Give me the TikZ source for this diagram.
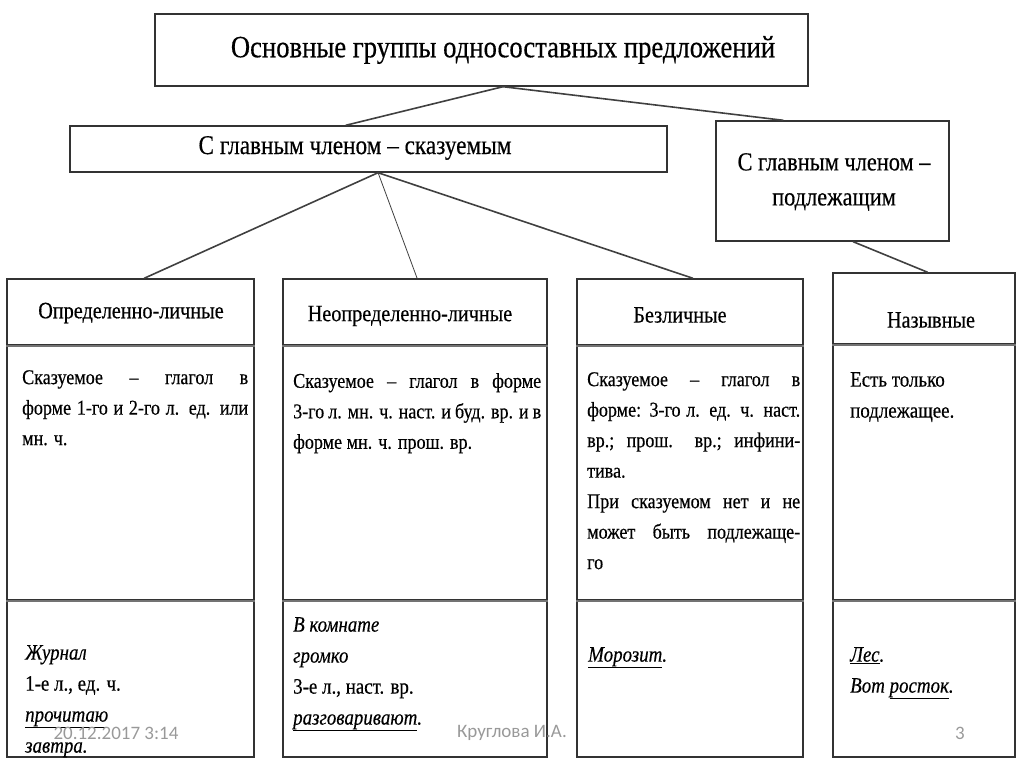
\documentclass[tikz,border=0pt]{standalone}
\usepackage{fontspec}
\setmainfont{Liberation Serif}[FakeStretch=0.86,FakeBold=0.4]
\newfontfamily\slidefont{Carlito}
\usetikzlibrary{calc}
\begin{document}
\begin{tikzpicture}[x=1pt,y=-1pt,
  frame/.style={draw=black!80,line width=1.4pt,inner sep=0pt},
  link/.style={draw=black!75,line width=1.6pt},
  rule/.style={draw=black!55,line width=2.4pt},
  head/.style={inner sep=0pt,font=\fontsize{23.5}{26}\selectfont},
  body/.style={anchor=north west,inner sep=0pt,text width=#1,align=justify,
    font=\fontsize{21}{30.5}\selectfont},
  ex/.style={anchor=north west,inner sep=0pt,align=left,
    font=\fontsize{22}{31}\selectfont},
  foot/.style={inner sep=0pt,text=black!40,font=\slidefont\fontsize{19}{22}\selectfont}]
  \useasboundingbox (0,0) rectangle (1024,767);
  \node[frame,minimum width=653pt,minimum height=72pt] (main) at (481.5,50) {};
  \node[inner sep=0pt,font=\fontsize{31}{34}\selectfont] (mainT) at (503,50)
    {Основные группы односоставных предложений};
  \node[frame,minimum width=597pt,minimum height=46pt] (sk) at (368.5,149) {};
  \node[inner sep=0pt,font=\fontsize{27}{30}\selectfont] (skT) at (355,148)
    {С главным членом – сказуемым};
  \node[frame,minimum width=233pt,minimum height=120pt] (pd) at (832.5,181) {};
  \node[inner sep=0pt,align=center,font=\fontsize{26}{35}\selectfont] (pdT) at (834,182)
    {С главным членом –\\ подлежащим};
  \node[frame,minimum width=247pt,minimum height=66pt] (h1) at (130.5,312) {};
  \node[frame,minimum width=247pt,minimum height=255pt] (b1) at (130.5,472.5) {};
  \node[frame,minimum width=247pt,minimum height=157pt] (e1) at (130.5,678.5) {};
  \node[frame,minimum width=264pt,minimum height=66pt] (h2) at (415,312) {};
  \node[frame,minimum width=264pt,minimum height=255pt] (b2) at (415,472.5) {};
  \node[frame,minimum width=264pt,minimum height=157pt] (e2) at (415,678.5) {};
  \node[frame,minimum width=226pt,minimum height=66pt] (h3) at (690,312) {};
  \node[frame,minimum width=226pt,minimum height=255pt] (b3) at (690,472.5) {};
  \node[frame,minimum width=226pt,minimum height=157pt] (e3) at (690,678.5) {};
  \node[frame,minimum width=182pt,minimum height=71pt] (h4) at (924,308.5) {};
  \node[frame,minimum width=182pt,minimum height=256pt] (b4) at (924,472) {};
  \node[frame,minimum width=182pt,minimum height=157pt] (e4) at (924,678.5) {};
  \draw[rule] (h1.south west) -- (h1.south east);
  \draw[rule] (b1.south west) -- (b1.south east);
  \draw[rule] (h2.south west) -- (h2.south east);
  \draw[rule] (b2.south west) -- (b2.south east);
  \draw[rule] (h3.south west) -- (h3.south east);
  \draw[rule] (b3.south west) -- (b3.south east);
  \draw[rule] (h4.south west) -- (h4.south east);
  \draw[rule] (b4.south west) -- (b4.south east);
  \node[head] (h1T) at (131,313) {Определенно-личные};
  \node[head] (h2T) at (410,316) {Неопределенно-личные};
  \node[head] (h3T) at (680,315) {Безличные};
  \node[head] (h4T) at (931,320) {Назывные};
  \node[body=226pt] (b1T) at (22,370)
    {Сказуемое – глагол в\linebreak форме 1-го и 2-го л. ед. или\linebreak мн. ч.};
  \node[body=248pt] (b2T) at (293,373)
    {Сказуемое – глагол в форме\linebreak 3-го л. мн. ч. наст. и буд. вр. и в\linebreak
     форме мн. ч. прош. вр.};
  \node[body=213pt] (b3T) at (587,372)
    {Сказуемое – глагол в\linebreak форме: 3-го л. ед. ч. наст.\linebreak
     вр.; прош. вр.; инфини-\linebreak тива.\\ При сказуемом нет и не\linebreak
     может быть подлежаще-\linebreak го};
  \node[ex] (b4T) at (850,372) {Есть только\\ подлежащее.};
  \node[ex] (e1T) at (25,645)
    {\textit{Журнал}\\ 1-е л., ед. ч.\\ \textit{\underline{прочитаю}}\\ \textit{завтра.}};
  \node[ex] (e2T) at (293,617)
    {\textit{В комнате}\\ \textit{громко}\\ 3-е л., наст. вр.\\ \textit{\underline{разговаривают}.}};
  \node[ex] (e3T) at (588,647) {\textit{\underline{Морозит}.}};
  \node[ex] (e4T) at (850,647) {\textit{\underline{Лес}.}\\ \textit{Вот \underline{росток}.}};
  \coordinate (skfoot) at ($(sk.south west)!0.516!(sk.south east)$);
  \draw[link] (main.south -| mainT) -- ($(sk.north west)!0.462!(sk.north east)$);
  \draw[link] (main.south -| mainT) -- ($(pd.north west)!0.29!(pd.north east)$);
  \draw[link] (skfoot) -- ($(h1.north west)!0.555!(h1.north east)$);
  \draw[link,line width=0.8pt] (skfoot) -- ($(h2.north west)!0.508!(h2.north east)$);
  \draw[link] (skfoot) -- ($(h3.north west)!0.513!(h3.north east)$);
  \draw[link] ($(pd.south west)!0.588!(pd.south east)$) -- ($(h4.north west)!0.52!(h4.north east)$);
  \node[foot] (date) at (116,733) {20.12.2017 3:14};
  \node[foot] (author) at (512,733) {Круглова И.А.};
  \node[foot] (page) at (960,733) {3};
\end{tikzpicture}
\end{document}
